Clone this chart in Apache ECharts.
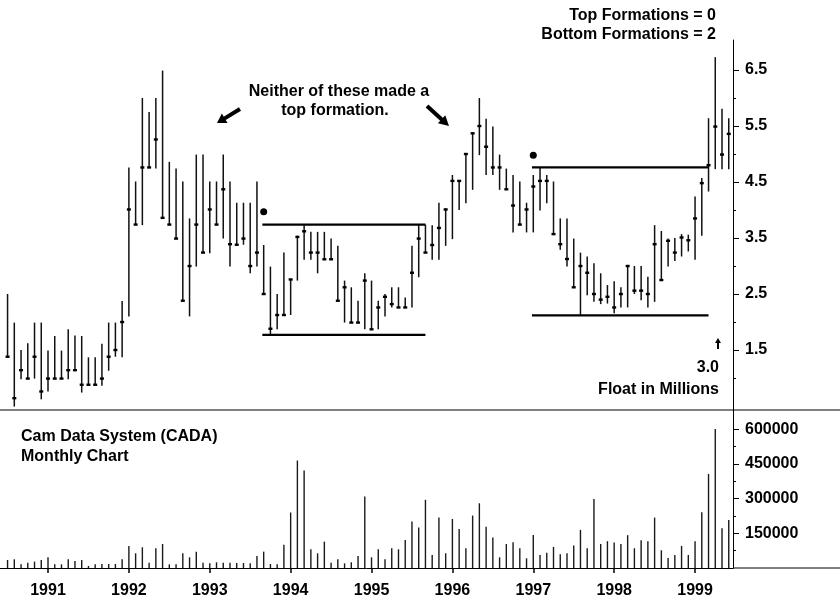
<!DOCTYPE html>
<html><head><meta charset="utf-8">
<script src="https://cdn.jsdelivr.net/npm/echarts@6/dist/echarts.min.js"></script>
<style>html,body{margin:0;padding:0;background:#fff}#c{width:840px;height:604px}</style>
</head><body><div id="c"></div>
<script>
const FONT = "'Liberation Sans',Arial,sans-serif";
// months counted from Jan 1990 (0 = Jan 1990); first bar is July 1990
const firstMonth = 6;
const high = [2.5,1.99,1.5,1.62,1.99,1.99,1.49,1.75,1.49,1.87,1.76,1.75,1.37,1.37,1.61,1.99,1.99,2.375,
  4.76,4.51,6.0,5.75,6.0,6.49,4.86,4.74,4.51,3.85,4.99,4.99,
  4.51,4.51,4.99,4.51,4.13,4.13,4.13,4.51,3.375,2.99,2.5,3.24,
  2.76,3.54,3.73,3.61,3.61,3.61,3.49,3.36,2.74,2.62,2.38,2.87,
  2.74,2.38,2.5,2.62,2.62,2.44,3.36,3.73,3.74,3.73,4.13,4.03,
  4.625,4.52,5.0,5.37,6.0,5.63,5.49,4.99,4.74,4.625,4.51,4.13,
  4.625,4.76,4.625,4.51,3.85,3.85,3.49,3.24,3.17,3.05,2.87,2.66,
  2.73,2.62,3.02,3.0,3.0,2.81,3.73,3.625,3.49,3.5,3.57,3.56,
  4.24,4.57,5.64,6.73,5.81,5.64];
const low = [1.38,0.49,0.98,0.99,0.99,0.62,0.76,0.99,0.99,0.98,1.14,0.74,0.88,0.88,0.86,1.13,1.38,1.37,
  2.10,3.74,3.73,4.76,4.74,3.86,3.74,3.49,2.38,2.10,2.99,3.24,
  3.23,3.74,3.49,2.99,3.38,3.38,2.87,2.99,2.5,1.77,1.87,2.125,
  2.125,2.74,3.11,3.11,2.87,3.12,3.12,2.38,1.99,1.99,1.99,1.87,
  1.87,1.87,2.10,2.26,2.26,2.26,2.26,2.80,3.24,3.11,3.11,3.36,
  3.48,4.0,4.12,4.36,4.98,4.625,4.625,4.36,4.37,3.60,3.73,3.60,
  3.60,3.99,4.12,3.57,3.29,2.99,2.62,2.125,2.48,2.36,2.32,2.33,
  2.155,2.26,2.26,2.5,2.39,2.26,2.36,2.73,2.99,3.09,3.17,3.26,
  3.11,3.54,4.33,4.73,4.73,4.73];
const close = [1.38,0.64,1.14,0.99,1.38,0.76,0.99,0.99,0.99,1.14,1.14,0.88,0.88,0.88,0.99,1.38,1.5,2.0,
  4.01,3.74,4.76,4.76,5.26,3.86,3.74,3.49,2.38,3.0,3.74,3.24,
  4.01,3.74,4.37,3.39,3.38,3.49,3.0,3.24,2.5,1.88,2.125,2.125,
  2.76,3.52,3.62,3.24,3.24,3.12,3.12,2.38,2.62,1.99,1.99,2.74,
  1.87,2.26,2.45,2.32,2.26,2.26,2.88,3.49,3.24,3.375,3.68,4.01,
  4.52,4.52,5.0,5.37,5.5,5.13,4.76,4.76,4.37,4.08,3.74,4.01,
  4.42,4.52,4.52,3.57,3.39,3.125,2.62,3.0,2.88,2.5,2.40,2.45,
  2.26,2.5,3.0,2.56,2.56,2.5,3.39,2.75,3.45,3.24,3.51,3.46,
  3.85,4.48,4.80,5.49,4.99,5.36];
const volume = [34700,37600,15900,23100,27500,34700,46200,15900,15900,37600,30300,34700,8700,15900,17300,17300,17300,37600,
  95400,63600,89600,23100,85300,104000,15900,15900,63600,46200,70800,23100,
  20200,24600,23100,23100,21700,21700,20200,52000,70800,17300,15900,101000,
  240000,465000,422000,80900,63600,114000,23100,37600,20200,24600,52000,309000,
  46200,80900,37600,85300,80900,121000,201000,175000,295000,56400,218000,63600,
  212000,169000,85300,227000,280000,178000,131500,46200,104000,111000,85300,41900,
  143000,56400,66500,91000,59200,63600,96800,165000,85300,299000,104000,116000,
  110000,104000,142000,85300,120000,116000,218000,76600,43400,56400,95400,56400,
  116000,241000,407000,601000,172000,208000];
const yearLabels = ['1991','1992','1993','1994','1995','1996','1997','1998','1999'];
const priceTicks = [1.5,2.5,3.5,4.5,5.5,6.5];
const priceMinorTicks = [1,2,3,4,5,6];
const volumeTicks = [150000,300000,450000,600000];
const volumeMinorTicks = [75000,225000,375000,525000];
const formations = [
  {from: 43.8, to: 68, top: 3.74, bottom: 1.77},
  {from: 83.8, to: 110, top: 4.76, bottom: 2.12}
];
const signalDots = [[44, 3.97], [84, 4.98]];

const xMin = 4.878, xMax = 113.63;
const yearValues = yearLabels.map(y => (parseInt(y) - 1990) * 12);

const ohlc = high.map((h, i) => [firstMonth + i, h, low[i], close[i]]);
const vol = volume.map((v, i) => [firstMonth + i, v]);

const chart = echarts.init(document.getElementById('c'), null, {renderer: 'canvas'});
const txt = {fontFamily: FONT, fontWeight: 'bold', color: '#000'};

function arrow(tail, tip, w, headLen, headHalf) {
  const dx = tip[0] - tail[0], dy = tip[1] - tail[1];
  const L = Math.hypot(dx, dy), ux = dx / L, uy = dy / L;
  const bx = tip[0] - ux * headLen, by = tip[1] - uy * headLen;
  const px = -uy, py = ux;
  return [
    {type: 'line', shape: {x1: tail[0], y1: tail[1], x2: bx + ux, y2: by + uy}, style: {stroke: '#000', lineWidth: w}},
    {type: 'polygon', shape: {points: [tip, [bx + px * headHalf, by + py * headHalf], [bx - px * headHalf, by - py * headHalf]]}, style: {fill: '#000'}}
  ];
}

const formationSeries = [];
formations.forEach(f => {
  [f.top, f.bottom].forEach(v => formationSeries.push({
    type: 'line', xAxisIndex: 0, yAxisIndex: 0, symbol: 'none', silent: true,
    data: [[f.from, v], [f.to, v]], lineStyle: {color: '#000', width: 2.2}, z: 3
  }));
});

function label(text, x, y, align) {
  return {type: 'text', x: x, y: y, style: {text: text, font: 'bold 16px ' + FONT, fill: '#000', textAlign: align, textVerticalAlign: 'middle'}};
}

const option = {
  animation: false,
  backgroundColor: '#fff',
  grid: [
    {left: 0, right: 107, top: 40, height: 370},
    {left: 0, right: 107, top: 410, height: 158}
  ],
  xAxis: [
    {type: 'value', gridIndex: 0, min: xMin, max: xMax, show: false},
    {type: 'value', gridIndex: 1, min: xMin, max: xMax,
      axisLine: {show: true, lineStyle: {color: '#000', width: 1}},
      axisTick: {show: true, customValues: yearValues, length: 5, lineStyle: {color: '#000', width: 1.5}},
      axisLabel: {show: true, customValues: yearValues, margin: 15, fontSize: 16, ...txt,
        formatter: v => String(1990 + Math.round(v / 12))},
      splitLine: {show: false}}
  ],
  yAxis: [
    {type: 'value', gridIndex: 0, position: 'right', min: 0.429, max: 7.036,
      axisLine: {show: true, onZero: false, lineStyle: {color: '#000', width: 1}},
      axisTick: {show: true, customValues: priceTicks, length: 6, lineStyle: {color: '#000'}},
      axisLabel: {show: true, customValues: priceTicks, margin: 12, fontSize: 16, ...txt, formatter: v => v.toFixed(1)},
      splitLine: {show: false}},
    {type: 'value', gridIndex: 0, position: 'right', min: 0.429, max: 7.036,
      axisLine: {show: false},
      axisTick: {show: true, customValues: priceMinorTicks, length: 3, lineStyle: {color: '#000'}},
      axisLabel: {show: false}, splitLine: {show: false}},
    {type: 'value', gridIndex: 1, position: 'right', min: 0, max: 683500,
      axisLine: {show: true, onZero: false, lineStyle: {color: '#000', width: 1}},
      axisTick: {show: true, customValues: volumeTicks, length: 6, lineStyle: {color: '#000'}},
      axisLabel: {show: true, customValues: volumeTicks, margin: 12, fontSize: 16, ...txt, formatter: v => String(v)},
      splitLine: {show: false}},
    {type: 'value', gridIndex: 1, position: 'right', min: 0, max: 683500,
      axisLine: {show: false},
      axisTick: {show: true, customValues: volumeMinorTicks, length: 3, lineStyle: {color: '#000'}},
      axisLabel: {show: false}, splitLine: {show: false}}
  ],
  series: [
    {type: 'custom', xAxisIndex: 0, yAxisIndex: 0, data: ohlc, silent: true, clip: false,
      renderItem(params, api) {
        const x = api.value(0);
        const pH = api.coord([x, api.value(1)]);
        const pL = api.coord([x, api.value(2)]);
        const pC = api.coord([x, api.value(3)]);
        return {type: 'group', children: [
          {type: 'line', shape: {x1: pH[0], y1: pH[1], x2: pL[0], y2: pL[1]}, style: {stroke: '#111', lineWidth: 1.5}},
          {type: 'rect', shape: {x: pC[0] - 2, y: pC[1] - 1.2, width: 4, height: 2.4}, style: {fill: '#000'}}
        ]};
      }},
    {type: 'bar', xAxisIndex: 1, yAxisIndex: 2, data: vol, barWidth: 1.4, silent: true,
      itemStyle: {color: '#1a1a1a'}},
    {type: 'scatter', xAxisIndex: 0, yAxisIndex: 0, data: signalDots, symbol: 'circle', symbolSize: 7,
      itemStyle: {color: '#000', opacity: 1}, silent: true, z: 4},
    ...formationSeries
  ],
  graphic: [
    {type: 'line', shape: {x1: 0, y1: 410, x2: 840, y2: 410}, style: {stroke: '#000', lineWidth: 1.2}, z: 10},
    {type: 'line', shape: {x1: 733, y1: 568, x2: 840, y2: 568}, style: {stroke: '#000', lineWidth: 1}, z: 10},
    label('Top Formations = 0', 716, 16, 'right'),
    label('Bottom Formations = 2', 716, 35, 'right'),
    label('Neither of these made a', 339, 92, 'center'),
    label('top formation.', 335, 111, 'center'),
    label('Cam Data System (CADA)', 21, 437, 'left'),
    label('Monthly Chart', 21, 457, 'left'),
    label('3.0', 719, 368, 'right'),
    label('Float in Millions', 719, 390, 'right'),
    {type: 'group', children: arrow([240, 109], [217, 123], 4, 9, 5.5)},
    {type: 'group', children: arrow([427, 106], [449, 126], 4, 10, 5.5)},
    {type: 'group', children: arrow([718, 349], [718, 338], 2, 5, 3)}
  ]
};
chart.setOption(option);
</script>
</body></html>
